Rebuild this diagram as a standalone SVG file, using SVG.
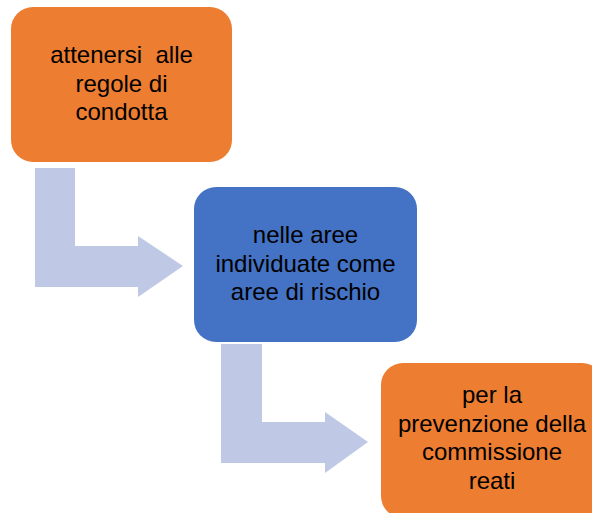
<svg xmlns="http://www.w3.org/2000/svg" width="592" height="513" viewBox="0 0 592 513">
<style>
.orange{fill:#ED7D31;}
.blue{fill:#4472C4;}
.arrow{fill:#BFC9E5;}
text{font-family:"Liberation Sans",Arial,sans-serif;font-size:24px;fill:#000;text-anchor:middle;white-space:pre;}
</style>
<rect width="592" height="513" fill="#FFFFFF"/>
<g id="connectors">
<path class="arrow" d="M35,168 H75 V246 H138 V236 L183,266 L138,297 V287 H35 Z"/>
<path class="arrow" d="M221,344 H262 V422 H325 V412 L368,442 L325,473 V463 H221 Z"/>
</g>
<g id="node1">
<rect class="orange" x="11" y="7" width="221" height="155" rx="22"/>
<text x="121.5" y="63" xml:space="preserve">attenersi  alle</text>
<text x="121.5" y="92">regole di</text>
<text x="121.5" y="120">condotta</text>
</g>
<g id="node2">
<rect class="blue" x="194" y="187" width="223" height="155" rx="22"/>
<text x="305.5" y="243">nelle aree</text>
<text x="305.5" y="272">individuate come</text>
<text x="305.5" y="300">aree di rischio</text>
</g>
<g id="node3">
<rect class="orange" x="381" y="363" width="223" height="155" rx="22"/>
<text x="492" y="403">per la</text>
<text x="492" y="432">prevenzione della</text>
<text x="492" y="460">commissione</text>
<text x="492" y="489">reati</text>
</g>
</svg>
